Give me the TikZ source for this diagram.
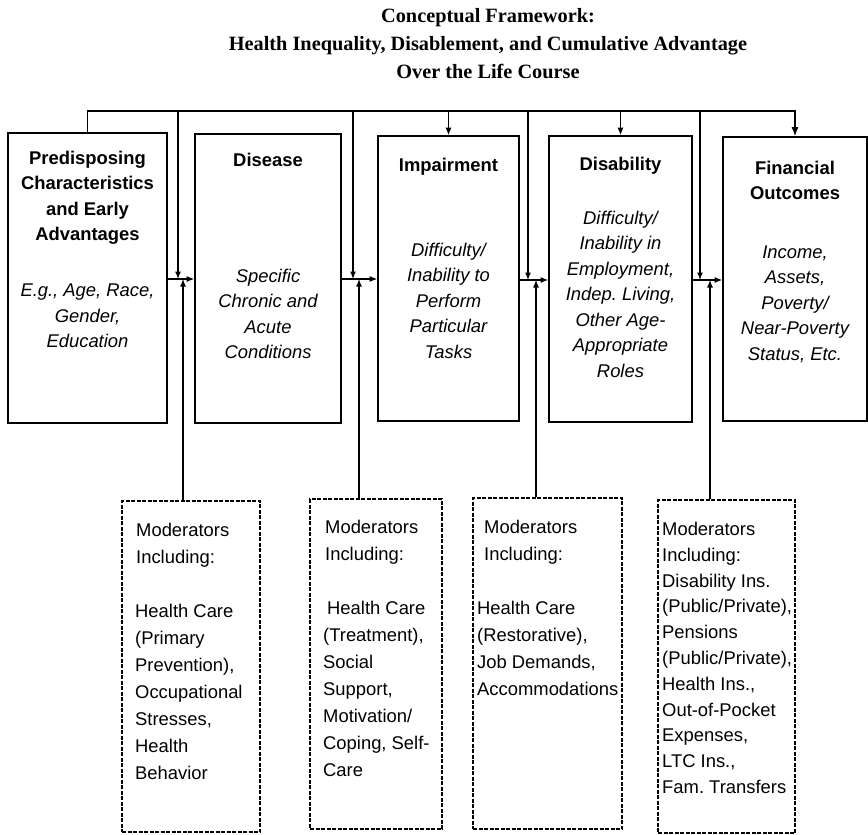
\documentclass[tikz,border=0pt]{standalone}
\usepackage{fontspec}
\setmainfont{Liberation Sans}
\newfontfamily\titlefont{Liberation Serif}
\usetikzlibrary{arrows.meta}
\frenchspacing
\begin{document}
\frenchspacing
\begin{tikzpicture}[x=1pt,y=-1pt,
  mainbox/.style={draw, line width=1.6pt, inner sep=0pt},
  modbox/.style={draw, line width=1.3pt, dash pattern=on 4pt off 1.5pt, inner sep=0pt},
  hd/.style={font=\bfseries\fontsize{18.4}{25.5}\selectfont, align=center, inner sep=0pt},
  itx/.style={font=\itshape\fontsize{18.4}{25.5}\selectfont, align=center, inner sep=0pt},
  md/.style={font=\fontsize{18.4}{27}\selectfont, align=left, inner sep=0pt, anchor=north west},
  arr/.style={line width=1.2pt, -{Latex[length=7.5pt,width=6pt]}},
  bigarr/.style={line width=1.2pt, -{Latex[length=9pt,width=7pt]}},
]
\useasboundingbox (0,0) rectangle (868,835);

% title
\node[font=\titlefont\bfseries\fontsize{20.3}{28}\selectfont, align=center, anchor=north, inner sep=0pt] (title) at (488,8.5)
  {Conceptual Framework:\\Health Inequality, Disablement, and Cumulative Advantage\\Over the Life Course};

% main boxes
\node[mainbox, minimum width=159pt, minimum height=290pt] (b1) at (87.5,278) {};
\node[mainbox, minimum width=146pt, minimum height=289pt] (b2) at (268,278.5) {};
\node[mainbox, minimum width=141pt, minimum height=285pt] (b3) at (448.5,278.5) {};
\node[mainbox, minimum width=143pt, minimum height=286pt] (b4) at (620.5,279) {};
\node[mainbox, minimum width=144pt, minimum height=284pt] (b5) at (795,279) {};

% box texts
\node[hd] (h1) at (87.5,198) {Predisposing\\Characteristics\\and Early\\Advantages};
\node[itx] (d1) at (87.5,316) {E.g., Age, Race,\\Gender,\\Education};
\node[hd] (h2) at (268,160) {Disease};
\node[itx] (d2) at (268,314) {Specific\\Chronic and\\Acute\\Conditions};
\node[hd] (h3) at (448.5,166.5) {Impairment};
\node[itx] (d3) at (448.5,300.5) {Difficulty/\\Inability to\\Perform\\Particular\\Tasks};
\node[hd] (h4) at (620.5,165.5) {Disability};
\node[itx] (d4) at (620.5,294) {Difficulty/\\Inability in\\Employment,\\Indep. Living,\\Other Age-\\Appropriate\\Roles};
\node[hd] (h5) at (795,180.5) {Financial\\Outcomes};
\node[itx] (d5) at (795,304) {Income,\\Assets,\\Poverty/\\Near-Poverty\\Status, Etc.};

% moderator boxes
\node[modbox, minimum width=138pt, minimum height=331pt] (m1) at (191,666.5) {};
\node[modbox, minimum width=132pt, minimum height=330pt] (m2) at (376,664) {};
\node[modbox, minimum width=149pt, minimum height=331pt] (m3) at (547.5,663.5) {};
\node[modbox, minimum width=137pt, minimum height=333pt] (m4) at (726.5,666.5) {};

\node[md] (t1) at (135,523) {\hspace*{1pt}Moderators\\\hspace*{1pt}Including:\\[27pt]Health Care\\(Primary\\Prevention),\\Occupational\\Stresses,\\Health\\Behavior};
\node[md] (t2) at (323,520) {\hspace*{2pt}Moderators\\\hspace*{2pt}Including:\\[27pt]\hspace*{4pt}Health Care\\(Treatment),\\Social\\Support,\\Motivation/\\Coping, Self-\\Care};
\node[md] (t3) at (477,520) {\hspace*{7pt}Moderators\\\hspace*{7pt}Including:\\[27pt]Health Care\\(Restorative),\\Job Demands,\\Accommodations};
\node[md, font=\fontsize{18.4}{25.8}\selectfont] (t4) at (662,522) {Moderators\\Including:\\Disability Ins.\\(Public/Private),\\Pensions\\(Public/Private),\\Health Ins.,\\Out-of-Pocket\\Expenses,\\LTC Ins.,\\Fam. Transfers};

% connectors
\coordinate (rail) at (0,111);
\coordinate (j1) at (178,279);
\coordinate (j2) at (353,279);
\coordinate (j3) at (528,280);
\coordinate (j4) at (700,280);
\coordinate (u1) at (183,279);
\coordinate (u2) at (359,279);
\coordinate (u3) at (536,280);
\coordinate (u4) at (710,280);

\draw[bigarr] (b1.north) |- (rail -| b5.north) -- (b5.north);
\draw[arr] (rail -| b3.north) -- (b3.north);
\draw[arr] (rail -| b4.north) -- (b4.north);

\draw[arr] (rail -| j1) -- (j1);
\draw[arr] (rail -| j2) -- (j2);
\draw[arr] (rail -| j3) -- (j3);
\draw[arr] (rail -| j4) -- (j4);

\draw[arr] (b1.east |- j1) -- (b2.west |- j1);
\draw[arr] (b2.east |- j2) -- (b3.west |- j2);
\draw[arr] (b3.east |- j3) -- (b4.west |- j3);
\draw[arr] (b4.east |- j4) -- (b5.west |- j4);

\draw[arr] (m1.north -| u1) -- (u1);
\draw[arr] (m2.north -| u2) -- (u2);
\draw[arr] (m3.north -| u3) -- (u3);
\draw[arr] (m4.north -| u4) -- (u4);
\end{tikzpicture}
\end{document}
